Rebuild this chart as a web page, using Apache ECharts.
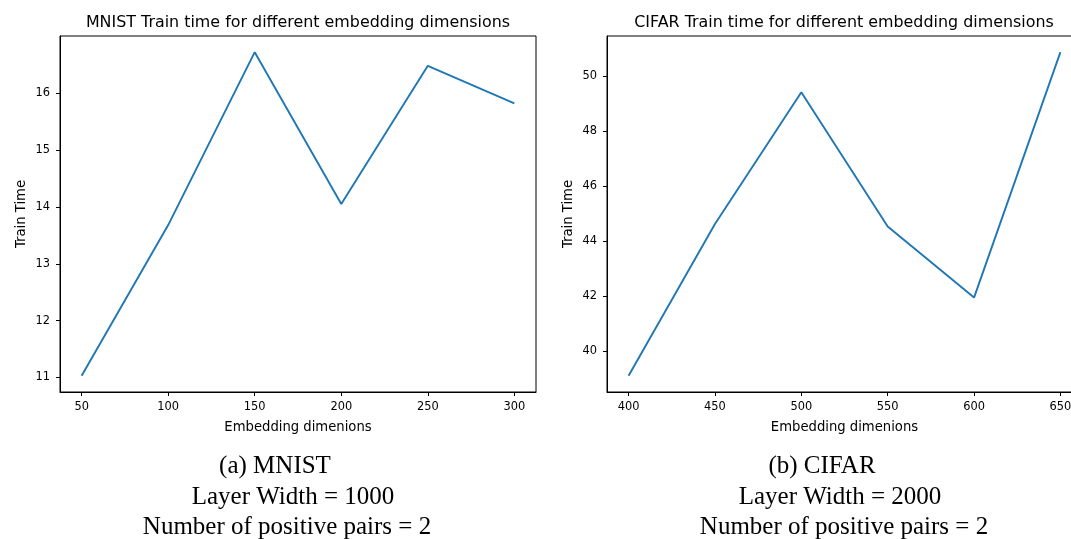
<!DOCTYPE html>
<html>
<head>
<meta charset="utf-8">
<script src="https://cdn.jsdelivr.net/npm/echarts@6/dist/echarts.min.js"></script>
<style>
html,body{margin:0;padding:0;background:#fff;}
#c{width:1071px;height:539px;}
</style>
</head>
<body>
<div id="c"></div>
<script>
// ---- data ----
const mnistDims = [50, 100, 150, 200, 250, 300];
const mnistTime = [11.03, 13.68, 16.72, 14.05, 16.48, 15.82];
const cifarDims = [400, 450, 500, 550, 600, 650];
const cifarTime = [39.09, 44.62, 49.42, 44.53, 41.94, 50.88];
const mnistXTicks = [50, 100, 150, 200, 250, 300];
const mnistYTicks = [11, 12, 13, 14, 15, 16];
const cifarXTicks = [400, 450, 500, 550, 600, 650];
const cifarYTicks = [40, 42, 44, 46, 48, 50];
const titles = ["MNIST Train time for different embedding dimensions", "CIFAR Train time for different embedding dimensions"];
const xName = "Embedding dimenions";
const yName = "Train Time";
const captionsA = ["(a) MNIST", "Layer Width = 1000", "Number of positive pairs = 2"];
const captionsB = ["(b) CIFAR", "Layer Width = 2000", "Number of positive pairs = 2"];

function pad(vals, frac){
  const mn = Math.min(...vals), mx = Math.max(...vals), r = mx - mn;
  return [mn - r*frac, mx + r*frac];
}
const mx = pad(mnistDims, 0.05), my = pad(mnistTime, 0.05);
const cx = pad(cifarDims, 0.05), cy = pad(cifarTime, 0.05);

const FONT = 'DejaVu Sans';
function xAx(idx, range, ticks){
  return {
    type:'value', gridIndex: idx, min: range[0], max: range[1],
    name: xName, nameLocation:'middle', nameGap: 29,
    nameTextStyle:{fontFamily:FONT, fontSize:13.2, color:'#000'},
    axisLine:{show:true, onZero:false, lineStyle:{color:'#000', width:1}},
    axisTick:{show:true, length:4, inside:false, customValues: ticks, lineStyle:{color:'#000'}},
    axisLabel:{show:true, margin:10, fontFamily:FONT, fontSize:11.4, color:'#000', customValues: ticks},
    splitLine:{show:false}
  };
}
function yAx(idx, range, ticks){
  return {
    type:'value', gridIndex: idx, min: range[0], max: range[1],
    name: yName, nameLocation:'middle', nameGap: 32, nameRotate: 90,
    nameTextStyle:{fontFamily:FONT, fontSize:13.2, color:'#000'},
    axisLine:{show:true, onZero:false, lineStyle:{color:'#000', width:1}},
    axisTick:{show:true, length:4, inside:false, customValues: ticks, lineStyle:{color:'#000'}},
    axisLabel:{show:true, margin:10, fontFamily:FONT, fontSize:11.4, color:'#000', customValues: ticks},
    splitLine:{show:false}
  };
}
function cap(lines, xs){
  const ys = [466, 497, 527];
  return lines.map((t,i)=>({
    type:'text', x: xs[i], y: ys[i],
    style:{text:t, fontFamily:'Liberation Serif', fontSize:25, fill:'#000', textAlign:'center', textVerticalAlign:'middle'}
  }));
}

const chart = echarts.init(document.getElementById('c'), null, {renderer:'canvas'});
chart.setOption({
  animation:false,
  backgroundColor:'#fff',
  title:[
    {text:titles[0], left:298, top:15, textAlign:'center', padding:0,
     textStyle:{fontFamily:FONT, fontSize:15.9, fontWeight:'normal', color:'#000'}},
    {text:titles[1], left:844, top:15, textAlign:'center', padding:0,
     textStyle:{fontFamily:FONT, fontSize:15.9, fontWeight:'normal', color:'#000'}}
  ],
  grid:[
    {left:60, top:36, width:476, height:356, show:true, borderColor:'#000', borderWidth:1, backgroundColor:'transparent', containLabel:false, outerBoundsMode:'none'},
    {left:607, top:36, width:475, height:356, show:true, borderColor:'#000', borderWidth:1, backgroundColor:'transparent', containLabel:false, outerBoundsMode:'none'}
  ],
  xAxis:[xAx(0, mx, mnistXTicks), xAx(1, cx, cifarXTicks)],
  yAxis:[yAx(0, my, mnistYTicks), yAx(1, cy, cifarYTicks)],
  series:[
    {type:'line', xAxisIndex:0, yAxisIndex:0, data: mnistDims.map((d,i)=>[d, mnistTime[i]]),
     showSymbol:false, symbol:'none', lineStyle:{color:'#1f77b4', width:1.9}},
    {type:'line', xAxisIndex:1, yAxisIndex:1, data: cifarDims.map((d,i)=>[d, cifarTime[i]]),
     showSymbol:false, symbol:'none', lineStyle:{color:'#1f77b4', width:1.9}}
  ],
  graphic: cap(captionsA, [275, 293, 287]).concat(cap(captionsB, [822, 840, 844]))
});
</script>
</body>
</html>
